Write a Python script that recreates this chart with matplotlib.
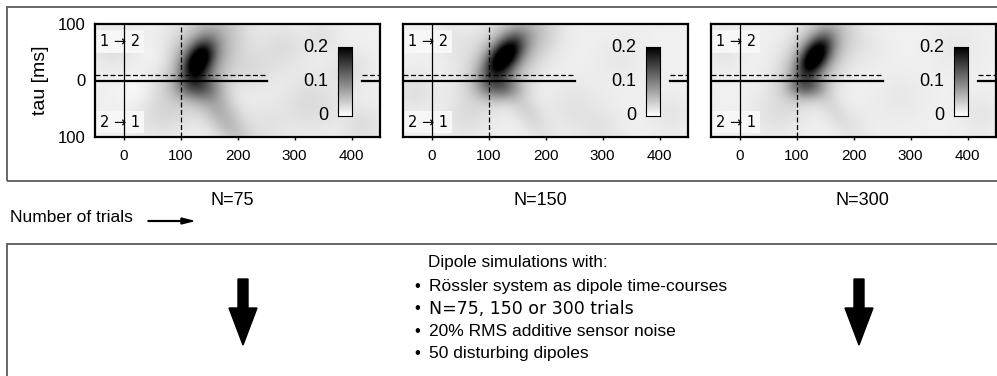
import numpy as np
import matplotlib
matplotlib.use("Agg")
import matplotlib.pyplot as plt
from matplotlib.patches import Rectangle, FancyArrow

plt.rcParams['font.family'] = ['Liberation Sans', 'DejaVu Sans']

W, H = 997, 376

# one panel per number of trials
trials = [75, 150, 300]
panel_titles = ["N=75", "N=150", "N=300"]
xticks = [0, 100, 200, 300, 400]
yticks = [-100, 0, 100]
ytick_labels = ["100", "0", "100"]
cbar_ticks = [0, 0.1, 0.2]
cbar_labels = ["0", "0.1", "0.2"]
vmin, vmax = 0.0, 0.2
baseline = 0.012

# interaction peaks: (lag centre, tau centre, major sd, minor sd, angle deg, height)
peaks_n75 = [(132, 36, 26, 16, 62, 0.16), (140, 42, 60, 36, 62, 0.07),
             (170, -55, 60, 20, -58, 0.045), (128, -12, 26, 16, 0, 0.055)]
peaks_n150 = [(127, 42, 30, 16, 52, 0.17), (132, 44, 58, 32, 52, 0.07),
              (120, -12, 24, 16, 0, 0.07), (165, -50, 40, 16, -55, 0.02)]
peaks_n300 = [(131, 42, 28, 15, 58, 0.17), (134, 44, 55, 30, 58, 0.07),
              (118, -12, 22, 14, 0, 0.065), (160, -45, 35, 14, -55, 0.015)]

# faint background patches: (lag, tau, sd, height)
patches_n75 = [(-20, 60, 25, 0.014), (60, -60, 30, 0.012), (280, 60, 30, 0.014),
               (330, -40, 35, 0.016), (400, 20, 25, 0.012), (230, 20, 25, 0.012),
               (20, -20, 20, -0.008), (420, -80, 25, 0.014), (250, -80, 30, 0.01),
               (350, 80, 20, 0.01), (60, 40, 18, -0.006)]
patches_n150 = [(-30, -20, 25, 0.012), (40, 70, 25, 0.008), (250, -50, 35, 0.01),
                (330, 40, 30, 0.006), (200, 80, 25, 0.008), (420, -60, 25, 0.008),
                (60, -70, 25, 0.01), (300, -85, 25, 0.008)]
patches_n300 = [(-30, 60, 25, 0.01), (60, -60, 30, 0.008), (280, -30, 30, 0.006),
                (380, 60, 30, 0.006), (220, 60, 25, 0.006), (420, -60, 25, 0.008),
                (200, -80, 25, 0.006)]

peaks = [peaks_n75, peaks_n150, peaks_n300]
bumps = [patches_n75, patches_n150, patches_n300]

lag = np.linspace(-50, 450, 401)
tau = np.linspace(-100, 100, 161)
LAG, TAU = np.meshgrid(lag, tau)


def field(peak_list, patch_list):
    z = np.full(LAG.shape, baseline)
    for cx, cy, sa, sb, ang, amp in peak_list:
        a = np.radians(ang)
        u = (LAG - cx) * np.cos(a) + (TAU - cy) * np.sin(a)
        v = -(LAG - cx) * np.sin(a) + (TAU - cy) * np.cos(a)
        z += amp * np.exp(-0.5 * ((u / sa) ** 2 + (v / sb) ** 2))
    for cx, cy, s, amp in patch_list:
        z += amp * np.exp(-0.5 * (((LAG - cx) / s) ** 2 + ((TAU - cy) / s) ** 2))
    return np.clip(z, 0, None)


def px(l, t, r, b):
    return [l / W, 1 - b / H, (r - l) / W, (b - t) / H]


fig = plt.figure(figsize=(W / 100, H / 100), dpi=100)

# frames around the two rows
frame_col = '#5a5a5a'
fig.patches.append(Rectangle((7 / W, 1 - 181 / H), 1.1, (181 - 7) / H, transform=fig.transFigure,
                             fill=False, edgecolor=frame_col, lw=1.3))
fig.patches.append(Rectangle((7 / W, -0.2), 1.1, 0.2 + (H - 244) / H, transform=fig.transFigure,
                             fill=False, edgecolor=frame_col, lw=1.3))

lefts = [95, 403, 711]
for i, left in enumerate(lefts):
    ax = fig.add_axes(px(left, 24, left + 285, 137))
    z = field(peaks[i], bumps[i])
    ax.imshow(z, extent=[-50, 450, -100, 100], origin='lower', cmap='gray_r',
              vmin=vmin, vmax=vmax, aspect='auto', interpolation='bilinear', zorder=0)
    ax.set_xlim(-50, 450)
    ax.set_ylim(-100, 100)
    for s in ax.spines.values():
        s.set_linewidth(1.6)

    # direction labels: pale box under the grid lines, text on top
    lbl_box = dict(boxstyle='square,pad=0.25', facecolor='#f7f7f7', edgecolor='none')
    for ty, lbl in [(69, "1 \u2192 2"), (-74, "2 \u2192 1")]:
        ax.text(-41, ty, lbl, fontsize=10.5, va='center', ha='left', color='none',
                bbox=lbl_box, zorder=1, family=['DejaVu Sans'])
        ax.text(-41, ty, lbl, fontsize=10.5, va='center', ha='left', color='black',
                zorder=4, family=['DejaVu Sans'])

    # zero-lag line and threshold (broken behind the colour bar)
    for x0, x1 in [(-50, 251), (419, 450)]:
        ax.plot([x0, x1], [0, 0], color='black', lw=1.6, zorder=3)
        ax.plot([x0, x1], [9, 9], color='black', lw=0.9, ls=(0, (4, 2)), zorder=3)
    ax.axvline(0, color='black', lw=0.9, zorder=3)
    ax.axvline(100, color='black', lw=0.9, ls=(0, (4, 2)), zorder=3)

    ax.set_xticks(xticks)
    ax.set_xticklabels([str(t) for t in xticks], fontsize=11)
    ax.tick_params(axis='x', length=2, width=1, pad=7)
    if i == 0:
        ax.set_yticks(yticks)
        ax.set_yticklabels(ytick_labels, fontsize=12)
        ax.tick_params(axis='y', length=0, pad=7)
        ax.set_ylabel("tau [ms]", fontsize=14, labelpad=6)
    else:
        ax.set_yticks([])

    # colour scale inside the panel
    cax = ax.inset_axes([0.853, 0.186, 0.049, 0.61])
    grad = np.linspace(vmin, vmax, 100).reshape(-1, 1)
    cax.imshow(grad, origin='lower', cmap='gray_r', vmin=vmin, vmax=vmax,
               aspect='auto', extent=[0, 1, vmin, vmax])
    cax.set_xticks([])
    cax.set_yticks([])
    for s in cax.spines.values():
        s.set_linewidth(0.8)
    for t, lab in zip(cbar_ticks, cbar_labels):
        ax.text(0.818, 0.186 + 0.61 * (t - vmin) / (vmax - vmin), lab, transform=ax.transAxes,
                ha='right', va='center', fontsize=13)

# trial counts under each panel
title_x = [232, 540, 862]
for tx, title in zip(title_x, panel_titles):
    fig.text(tx / W, 1 - 201 / H, title, ha='center', va='center', fontsize=13)

fig.text(10 / W, 1 - 218 / H, "Number of trials", ha='left', va='center', fontsize=12.5)
fig.patches.append(FancyArrow(148 / W, 1 - 221 / H, 45 / W, 0, width=0.8 / H,
                              head_width=6 / H, head_length=12 / W, length_includes_head=True,
                              transform=fig.transFigure, color='black'))

# big downward arrows in the lower box
for cx in [243, 859]:
    fig.patches.append(FancyArrow(cx / W, 1 - 279 / H, 0, -(345 - 279) / H, width=10 / W,
                                  head_width=28 / W, head_length=37 / H, length_includes_head=True,
                                  transform=fig.transFigure, color='black'))

fig.text(428 / W, 1 - 263 / H, "Dipole simulations with:", ha='left', va='center', fontsize=12.3)
bullets = ["R\u00f6ssler system as dipole time-courses",
           "N=75, 150 or 300 trials",
           "20% RMS additive sensor noise",
           "50 disturbing dipoles"]
for k, line in enumerate(bullets):
    y = 1 - (286.5 + 22.3 * k) / H
    fig.text(414 / W, y, "\u2022", ha='left', va='center', fontsize=12)
    fam = ['DejaVu Sans'] if line.startswith("N=") else ['Liberation Sans', 'DejaVu Sans']
    fig.text(429 / W, y, line, ha='left', va='center', fontsize=12.5, family=fam)

fig.savefig("out.png", dpi=100)
